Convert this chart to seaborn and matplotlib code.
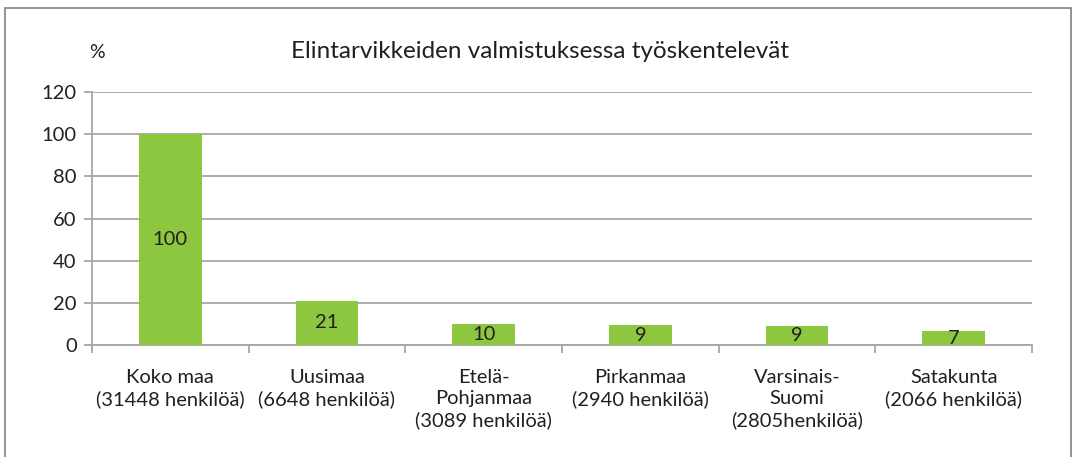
import matplotlib
matplotlib.use("Agg")
import matplotlib.pyplot as plt
import matplotlib.patches as mpatches
import seaborn as sns
import numpy as np

categories = ["Koko maa\n(31448 henkilöä)", "Uusimaa\n(6648 henkilöä)",
              "Etelä-\nPohjanmaa\n(3089 henkilöä)", "Pirkanmaa\n(2940 henkilöä)",
              "Varsinais-\nSuomi\n(2805henkilöä)", "Satakunta\n(2066 henkilöä)"]
values = [100, 21.1, 9.8, 9.3, 8.9, 6.6]
value_labels = ["100", "21", "10", "9", "9", "7"]
yticks = [0, 20, 40, 60, 80, 100, 120]
title = "Elintarvikkeiden valmistuksessa työskentelevät"

sns.set_theme(style="white")
plt.rcParams['font.family'] = ['Lato', 'DejaVu Sans']
txt = "#231F20"
grid_c = "#A6A6A6"

fig = plt.figure(figsize=(10.75, 4.57), dpi=100)
ax = fig.add_axes([92/1075, 1-345/457, (1032-92)/1075, (345-92)/457])

sns.barplot(x=list(range(len(values))), y=values, color="#8DC63F", width=0.4,
            saturation=1, ax=ax, zorder=3, edgecolor="none", linewidth=0)
for c in ax.containers:
    ax.bar_label(c, labels=value_labels, label_type="center", fontsize=14.5, color=txt)

ax.set_xlim(-0.5, len(values) - 0.5)
ax.set_ylim(0, 120)
ax.set_yticks(yticks)
ax.set_yticklabels([str(t) for t in yticks], fontsize=14.5, color=txt)
ax.yaxis.grid(True, color=grid_c, linewidth=1.3, zorder=0)
ax.set_axisbelow(True)

ax.set_xticks(np.arange(-0.5, len(values), 1.0))
ax.set_xticklabels([])
ax.set_xticks(np.arange(len(values)), minor=True)
ax.set_xticklabels(categories, minor=True, fontsize=14.5, color=txt, linespacing=1.3, va="top")
ax.tick_params(axis="x", which="minor", length=0, pad=17)
ax.tick_params(axis="x", which="major", length=6, width=1.3, color=grid_c, direction="out", bottom=True)
ax.tick_params(axis="y", length=6, width=1.3, color=grid_c, direction="out", left=True, pad=5)

for s in ["top", "right"]:
    ax.spines[s].set_visible(False)
for s in ["left", "bottom"]:
    ax.spines[s].set_color(grid_c)
    ax.spines[s].set_linewidth(1.3)
ax.set_xlabel("")
ax.set_ylabel("")

fig.text(540/1075, 1-52/457, title, ha="center", va="center", fontsize=17.5, color=txt)
fig.text(97/1075, 1-52/457, "%", ha="center", va="center", fontsize=14, color=txt)

rect = mpatches.Rectangle((5/1075, -0.01), (1071-5)/1075, 1.01 - 8/457,
                          transform=fig.transFigure, fill=False,
                          edgecolor="#808080", linewidth=1.2)
fig.patches.append(rect)

fig.savefig("out.png", dpi=100)
